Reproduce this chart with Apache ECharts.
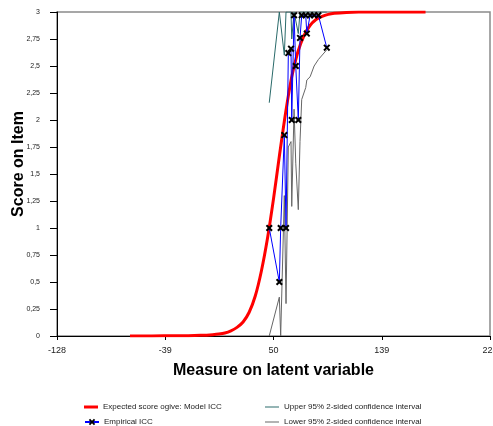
<!DOCTYPE html>
<html>
<head>
<meta charset="utf-8">
<script src="https://cdn.jsdelivr.net/npm/echarts@6/dist/echarts.min.js"></script>
<style>
  html, body { margin: 0; padding: 0; background: #fff; }
  #chart { width: 493px; height: 426px; }
</style>
</head>
<body>
<div id="chart"></div>
<script>
// Model ICC: expected score ogive
var modelX = [-68, -50, -30, -20, -10, -5, 0, 5, 10, 15, 20, 25, 30, 35, 40, 45, 50, 55, 60, 65, 70, 75, 80, 85, 90, 95, 100, 110, 120, 140, 175];
var modelY = [0, 0.0005, 0.002, 0.003, 0.006, 0.008, 0.012, 0.018, 0.028, 0.048, 0.08, 0.13, 0.22, 0.37, 0.6, 0.9, 1.27, 1.68, 2.07, 2.4, 2.63, 2.78, 2.875, 2.93, 2.96, 2.978, 2.988, 2.996, 2.999, 3, 3];

// Empirical ICC points with their 95% confidence bounds
var empX  = [46.5, 54.8, 55.9, 58.9, 60.3, 62.2, 64.4, 65.0, 66.9, 68.3, 70.4, 71.8, 73.2, 76.5, 77.4, 80.1, 83.4, 86.9, 93.8];
var empY  = [1, 0.5, 1, 1.86, 1, 2.62, 2.66, 2, 2.97, 2.5, 2, 2.76, 2.97, 2.97, 2.8, 2.97, 2.97, 2.97, 2.67];
var upperY = [2.16, 3, 3, 2.6, 3, 3, 3, 2.75, 3, 3, 2.8, 3, 3, 3, 3, 3, 3, 3, 3];
var lowerY = [0, 0.36, 0, 1.3, 0.3, 1.75, 1.8, 1.2, 2.1, 1.6, 1.17, 1.8, 2.19, 2.3, 2.37, 2.4, 2.5, 2.56, 2.65];

// Axis ticks
var xTicks = [-128, -39, 50, 139, 228];
var yMin = 0, yMax = 3, yStep = 0.25;

var names = {
  model: 'Expected score ogive: Model ICC',
  emp: 'Empirical ICC',
  up: 'Upper 95% 2-sided confidence interval',
  low: 'Lower 95% 2-sided confidence interval'
};

function pairs(xs, ys) {
  return xs.map(function (x, i) { return [x, ys[i]]; });
}

// bold "x" marker
var crossPath = 'path://M0,2 L2,0 L5,3 L8,0 L10,2 L7,5 L10,8 L8,10 L5,7 L2,10 L0,8 L3,5 Z';
var font = 'Arial, "Liberation Sans", sans-serif';
var legendText = { fontFamily: font, fontSize: 8, color: '#222' };

// one legend box per entry so the two columns stay aligned
function legendBox(name, left, top, opts) {
  return Object.assign({
    orient: 'horizontal', left: left, top: top, itemWidth: 14, itemHeight: 8, itemGap: 0,
    textStyle: legendText, data: [name]
  }, opts || {});
}

var chart = echarts.init(document.getElementById('chart'), null, { renderer: 'canvas' });
chart.setOption({
  animation: false,
  backgroundColor: '#fff',
  grid: {
    left: 57, right: 3, top: 12, bottom: 90,
    outerBoundsMode: 'none', containLabel: false,
    show: true, borderColor: '#8a8a8a', borderWidth: 1.5, backgroundColor: 'transparent'
  },
  xAxis: {
    type: 'value',
    min: -128, max: 228,
    name: 'Measure on latent variable',
    nameLocation: 'middle',
    nameGap: 27,
    nameMoveOverlap: false,
    nameTextStyle: { fontFamily: font, fontSize: 16, fontWeight: 'bold', color: '#000' },
    splitLine: { show: false },
    axisLine: { onZero: false, lineStyle: { color: '#000', width: 1 } },
    axisTick: { show: true, length: 4, customValues: xTicks, lineStyle: { color: '#000' } },
    axisLabel: { customValues: xTicks, margin: 10, fontFamily: font, fontSize: 9, color: '#222', hideOverlap: false }
  },
  yAxis: {
    type: 'value',
    min: yMin, max: yMax, interval: yStep,
    name: 'Score on Item',
    nameLocation: 'middle',
    nameGap: 30,
    nameRotate: 90,
    nameMoveOverlap: false,
    nameTextStyle: { fontFamily: font, fontSize: 16, fontWeight: 'bold', color: '#000', padding: [0, 0, 0, 20] },
    splitLine: { show: false },
    axisLine: { show: true, onZero: false, lineStyle: { color: '#000', width: 1 } },
    axisTick: { show: true, length: 7, lineStyle: { color: '#000' } },
    axisLabel: {
      margin: 17, fontFamily: font, fontSize: 7, color: '#222',
      formatter: function (v) { return String(+v.toFixed(2)).replace('.', ','); }
    }
  },
  legend: [
    legendBox({ name: names.model, icon: 'rect' }, 79, 398, { itemHeight: 3 }),
    legendBox(names.emp, 79, 413),
    legendBox({ name: names.up, icon: 'rect' }, 260, 398, { itemHeight: 1 }),
    legendBox({ name: names.low, icon: 'rect' }, 260, 413, { itemHeight: 1 })
  ],
  series: [
    {
      name: names.model, type: 'line', data: pairs(modelX, modelY),
      smooth: 0.3, symbol: 'none', z: 2,
      lineStyle: { color: '#ff0000', width: 3 }, itemStyle: { color: '#ff0000' }
    },
    {
      name: names.up, type: 'line', data: pairs(empX, upperY),
      symbol: 'none', z: 3,
      lineStyle: { color: '#2a6a6a', width: 1 }, itemStyle: { color: '#2a6a6a' }
    },
    {
      name: names.low, type: 'line', data: pairs(empX, lowerY),
      symbol: 'none', z: 3,
      lineStyle: { color: '#666666', width: 1 }, itemStyle: { color: '#666666' }
    },
    {
      name: names.emp, type: 'line', data: pairs(empX, empY),
      symbol: crossPath, symbolSize: 7, showSymbol: true, z: 4,
      lineStyle: { color: '#0000ff', width: 1 }, itemStyle: { color: '#000' }
    }
  ]
});
</script>
</body>
</html>
